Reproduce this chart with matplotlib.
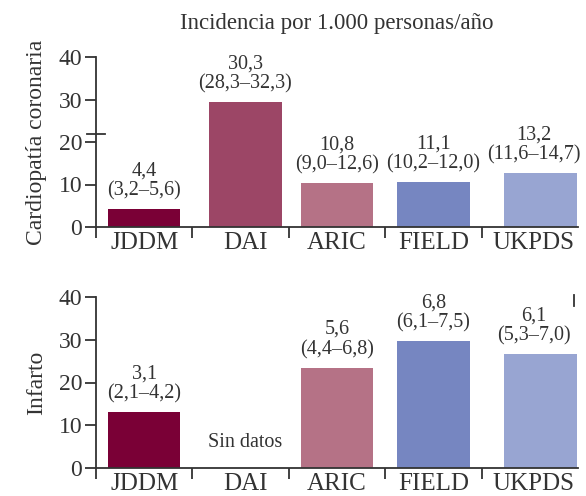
import matplotlib
matplotlib.use("Agg")
import matplotlib.pyplot as plt

plt.rcParams['font.family'] = ['Liberation Serif', 'DejaVu Serif']

studies = ["JDDM", "DAI", "ARIC", "FIELD", "UKPDS"]
colors = ["#7a0036", "#9c4666", "#b57286", "#7686c1", "#98a5d2"]

# heights as drawn in the picture
chd_height = [4.3, 29.5, 10.3, 10.6, 12.8]
chd_value = ["4,4", "30,3", "10,8", "11,1", "13,2"]
chd_ci = ["(3,2–5,6)", "(28,3–32,3)", "(9,0–12,6)", "(10,2–12,0)", "(11,6–14,7)"]

ictus_height = [13.0, None, 23.5, 29.8, 26.7]
ictus_value = ["3,1", None, "5,6", "6,8", "6,1"]
ictus_ci = ["(2,1–4,2)", None, "(4,4–6,8)", "(6,1–7,5)", "(5,3–7,0)"]

W, H = 586, 496
fig = plt.figure(figsize=(W / 100, H / 100), dpi=100)
axis_col = "#333333"
txt_col = "#333333"
# small nudges of the bars / texts inside their slots, as in the original
bar_nudge = [0.0, 0.05, 0.0, 0.0, 0.11]
txt_nudge = [0.0, 0.05, 0.0, 0.0, 0.04]


def panel(y0, y40, heights, values, cis, ylabel):
    ax = fig.add_axes([96 / W, (H - y0) / H, (578 - 96) / W, (y0 - y40) / H])
    ax.set_xlim(0, 5)
    ax.set_ylim(0, 40)
    for s in ["top", "right"]:
        ax.spines[s].set_visible(False)
    for s in ["left", "bottom"]:
        ax.spines[s].set_color(axis_col)
        ax.spines[s].set_linewidth(1.3)
    ax.set_yticks([0, 10, 20, 30, 40])
    ax.tick_params(axis="y", length=8, width=1.3, color=axis_col,
                   labelsize=17, labelcolor=txt_col, pad=2)
    ax.set_xticks([0, 1, 2, 3, 4])
    ax.set_xticklabels([])
    ax.tick_params(axis="x", length=8, width=1.3, color=axis_col)
    for i, name in enumerate(studies):
        xb = i + 0.5 + bar_nudge[i]
        xt = i + 0.5 + txt_nudge[i]
        ax.text(xt, -1.2, name, ha="center", va="top",
                fontsize=18, color=txt_col)
        h = heights[i]
        if h is None:
            ax.text(xt, 6.0, "Sin datos", ha="center", va="center",
                    fontsize=14.5, color=txt_col)
            continue
        ax.bar(xb, h, width=0.75, color=colors[i])
        ax.text(xt, h + 2.0, values[i] + "\n" + cis[i], ha="center",
                va="bottom", fontsize=14.5, color=txt_col, linespacing=1.05)
    ax.set_ylabel(ylabel, fontsize=17, color=txt_col, labelpad=8)
    return ax


ax1 = panel(227, 57, chd_height, chd_value, chd_ci, "Cardiopatía coronaria")
# axis break mark
ax1.plot([-0.09, 0.09], [21.8, 21.8], color=axis_col, lw=1.3, clip_on=False)

ax2 = panel(468, 297, ictus_height, ictus_value, ictus_ci, "Infarto")
ax2.plot([4.96, 4.96], [38.0, 40.5], color=axis_col, lw=1.3, clip_on=False)

fig.text(337 / W, 1 - 23 / H, "Incidencia por 1.000 personas/año",
         ha="center", va="center", fontsize=16.5, color=txt_col)

fig.savefig("out.png", dpi=100)
